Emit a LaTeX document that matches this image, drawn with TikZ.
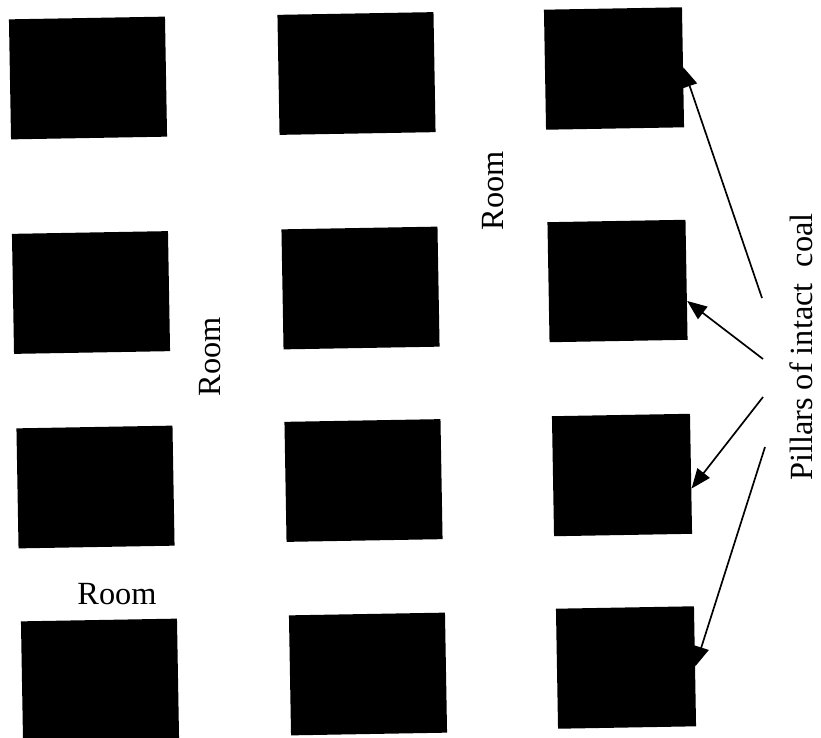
\documentclass[tikz,border=0pt]{standalone}
\usepackage{fontspec}
\setmainfont{Liberation Serif}
\usetikzlibrary{arrows.meta}
\tikzset{
  pillar/.style={rectangle, fill=black, inner sep=0pt, rotate=1,
                 minimum width=3.9cm, minimum height=3cm},
  pillarn/.style={pillar, minimum width=3.45cm},
  lbl/.style={font=\fontsize{23}{27}\selectfont, inner sep=0pt},
  arr/.style={-{Triangle[length=14pt, width=11pt]}, line width=1.2pt},
}
\begin{document}
\begin{tikzpicture}[x=0.025cm, y=-0.025cm]
    \useasboundingbox (0,0) rectangle (821,737);
    % pillars, row by row
    \node[pillar] (p11) at (88,78) {};
    \node[pillar] (p12) at (356.5,73.5) {};
    \node[pillarn] (p13) at (614,68.5) {};
    \node[pillar] (p21) at (91,292.5) {};
    \node[pillar] (p22) at (360.5,288) {};
    \node[pillarn] (p23) at (617.5,281) {};
    \node[pillar] (p31) at (95.5,487) {};
    \node[pillar] (p32) at (363.5,480.5) {};
    \node[pillarn] (p33) at (622,475) {};
    \node[pillar] (p41) at (100,680) {};
    \node[pillar] (p42) at (368,674) {};
    \node[pillarn] (p43) at (626,667.5) {};
    % labels
    \node[lbl, rotate=90, anchor=base] (room1) at (220,357) {Room};
    \node[lbl, rotate=90, anchor=base] (room2) at (503,191) {Room};
    \node[lbl, anchor=base] (room3) at (117,604) {Room};
    \node[lbl, rotate=90, anchor=base] (coal) at (812,347) {Pillars of intact\ \ coal};
    \coordinate (s1) at (762,298);
    \coordinate (s2) at (763,359);
    \coordinate (s3) at (763,397);
    \coordinate (s4) at (765,447);
    \draw[arr] (s1) -- (p13.east);
    \draw[arr] (s2) -- (p23.-17);
    \draw[arr] (s3) -- (p33.-12);
    \draw[arr] (s4) -- (p43.east);
  \end{tikzpicture}
\end{document}
